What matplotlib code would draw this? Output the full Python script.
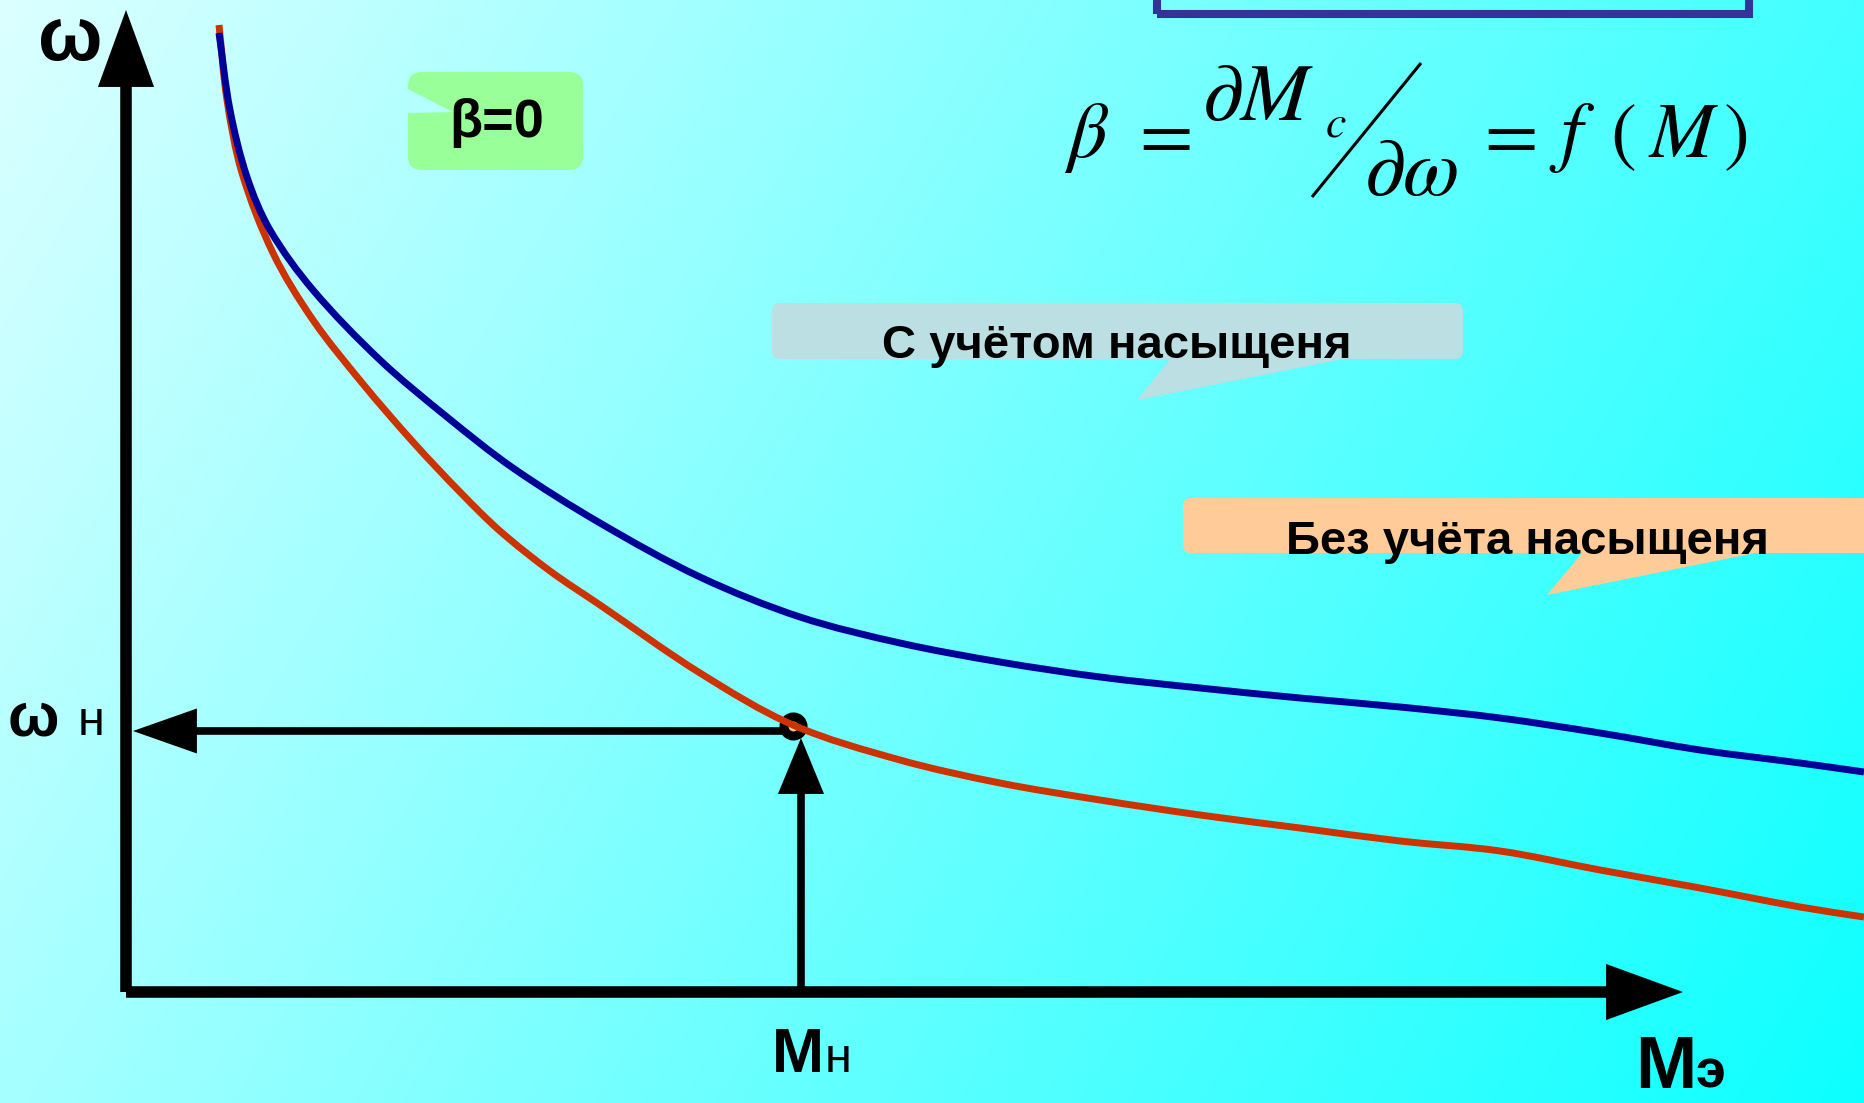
import numpy as np
import matplotlib
matplotlib.use("Agg")
import matplotlib.pyplot as plt
from matplotlib.patches import FancyBboxPatch, Polygon, Rectangle, FancyArrowPatch, ArrowStyle, PathPatch
from matplotlib.path import Path

# ---------------- data (origin at the axes corner; 1 unit = 100 px) ----------------
blue_M = [0.93, 1.04, 1.21, 1.44, 1.87, 2.54, 3.21, 3.87, 4.74, 5.74, 6.74, 7.74,
          8.74, 9.74, 10.74, 11.74, 12.74, 13.74, 14.74, 15.74, 16.74, 17.38]
blue_w = [9.59, 8.82, 8.15, 7.62, 7.02, 6.32, 5.75, 5.24, 4.69, 4.15, 3.75, 3.49,
          3.30, 3.15, 3.04, 2.94, 2.85, 2.74, 2.59, 2.42, 2.29, 2.20]

red_M = [0.93, 1.01, 1.16, 1.47, 1.87, 2.37, 2.87, 3.34, 3.74, 4.24, 4.74, 5.74, 6.67,
         7.74, 8.74, 9.74, 10.74, 11.74, 12.74, 13.74, 14.74, 15.74, 16.74, 17.38]
red_w = [9.67, 8.92, 8.19, 7.39, 6.72, 6.08, 5.50, 5.00, 4.61, 4.21, 3.87, 3.19, 2.67,
         2.32, 2.09, 1.92, 1.77, 1.64, 1.51, 1.41, 1.22, 1.04, 0.85, 0.75]

M_axis_end = 15.57
w_axis_end = 9.82
M_nom = 6.75          # vertical arrow position
w_nom = 2.61          # horizontal arrow position
point_M, point_w = 6.67, 2.66
w_arrow_tip = 0.07
M_arrow_tip = 2.54

label_w_top = "ω"
label_w_nom = ("ω", "н")
label_M_nom = ("М", "н")
label_M_e = ("М", "э")
label_beta0 = "β=0"
callout_sat = "С учётом насыщеня"
callout_nosat = "Без учёта насыщеня"

# ---------------- figure ----------------
W, H = 1864, 1103
fig = plt.figure(figsize=(W / 100, H / 100), dpi=100)
ax = fig.add_axes([0, 0, 1, 1])
x0, x1 = -1.26, 17.38
y0, y1 = -1.11, 9.92
ax.set_xlim(x0, x1)
ax.set_ylim(y0, y1)
ax.axis("off")

# background gradient (light cyan top-left -> saturated cyan bottom-right)
def bg_red(px, py):
    t = (px * W + py * H) / (W * W + H * H)
    return (220 * (1 - t) + 12 * t) / 255

yy, xx = np.mgrid[0:H:2, 0:W:2]
R = bg_red(xx, yy)
img = np.dstack([R, np.ones_like(R), np.ones_like(R)])
ax.imshow(img, extent=(x0, x1, y0, y1), origin="upper", aspect="auto",
          interpolation="bilinear", zorder=0)

def bgc(dx, dy):
    px = (dx - x0) * 100
    py = (y1 - dy) * 100
    return (bg_red(px, py), 1.0, 1.0)

SANS = ["Liberation Sans", "DejaVu Sans"]
plt.rcParams["mathtext.fontset"] = "stix"

# ---------------- callout boxes ----------------
ax.add_patch(FancyBboxPatch((2.82, 8.22), 1.75, 0.98,
                            boxstyle="round,pad=0,rounding_size=0.14",
                            fc="#99FF99", ec="none", zorder=2))
ax.add_patch(Polygon([(2.80, 9.04), (3.27, 8.80), (2.80, 8.79)],
                     closed=True, fc=bgc(3.0, 8.9), ec="none", zorder=2.1))
ax.text(3.705, 8.55, label_beta0, family=SANS, weight="bold", fontsize=39,
        ha="center", va="baseline", zorder=3)

ax.add_patch(FancyBboxPatch((6.46, 6.33), 6.91, 0.56,
                            boxstyle="round,pad=0,rounding_size=0.08",
                            fc="#BBDFE3", ec="none", zorder=2))
ax.add_patch(Polygon([(10.45, 6.34), (12.22, 6.34), (10.11, 5.92)],
                     closed=True, fc="#BBDFE3", ec="none", zorder=2))
ax.text(9.905, 6.34, callout_sat, family=SANS, weight="bold", fontsize=34,
        ha="center", va="baseline", zorder=3)

ax.add_patch(FancyBboxPatch((10.57, 4.39), 7.5, 0.55,
                            boxstyle="round,pad=0,rounding_size=0.08",
                            fc="#FFCC99", ec="none", zorder=2))
ax.add_patch(Polygon([(14.57, 4.40), (16.34, 4.40), (14.21, 3.97)],
                     closed=True, fc="#FFCC99", ec="none", zorder=2))
ax.text(14.01, 4.38, callout_nosat, family=SANS, weight="bold", fontsize=34,
        ha="center", va="baseline", zorder=3)

# formula frame (only bottom part visible)
ax.add_patch(Rectangle((10.31, 9.785), 5.92, 1.0, fill=False, ec="#333399",
                       lw=5.8, zorder=2))

# formula
fs = 56
def ftxt(x, y, s, size=fs):
    ax.text(x, y, s, fontsize=size, ha="left", va="baseline", zorder=3)

ftxt(9.38, 8.35, r"$\beta$")
ftxt(10.02, 8.35, r"$=$")
ftxt(10.76, 8.72, r"$\partial M$", 59)
ftxt(11.99, 8.55, r"$c$", 33)
ax.plot([12.95, 11.86], [9.29, 7.95], color="black", lw=2.2, zorder=3,
        solid_capstyle="butt")
ftxt(12.38, 7.97, r"$\partial\omega$", 59)
ftxt(13.47, 8.35, r"$=$")
ftxt(14.23, 8.35, r"$f$")
ftxt(14.84, 8.35, r"$($")
ftxt(15.22, 8.35, r"$M$")
ftxt(15.97, 8.35, r"$)$")

# ---------------- axes with arrows ----------------
def head(start, tip, hl, hw):
    ax.add_patch(FancyArrowPatch(posA=start, posB=tip,
                                 arrowstyle=ArrowStyle("-|>", head_length=hl, head_width=hw),
                                 mutation_scale=1, lw=0, color="black",
                                 shrinkA=0, shrinkB=0, zorder=4))

axis_lw = 8.3
ax.plot([0, 0], [0, w_axis_end - 0.7], color="black", lw=axis_lw,
        solid_capstyle="butt", zorder=4)
head((0, 0), (0, w_axis_end), 55.4, 20.2)
ax.plot([0, M_axis_end - 0.7], [0, 0], color="black", lw=axis_lw,
        solid_capstyle="butt", zorder=4)
head((0, 0), (M_axis_end, 0), 55.4, 20.2)

arr_lw = 5.5
ax.plot([point_M + 0.02, w_arrow_tip + 0.55], [w_nom, w_nom], color="black",
        lw=arr_lw, solid_capstyle="butt", zorder=4)
head((point_M, w_nom), (w_arrow_tip, w_nom), 46, 16.2)
ax.plot([M_nom, M_nom], [0, M_arrow_tip - 0.5], color="black",
        lw=arr_lw, solid_capstyle="butt", zorder=4)
head((M_nom, 0), (M_nom, M_arrow_tip), 40.3, 16.6)

# ---------------- curves (smooth Bezier through the read points) ----------------
def smooth_path(xs, ys):
    P = np.column_stack([xs, ys]).astype(float)
    n = len(P)
    d = np.hypot(*np.diff(P, axis=0).T)
    T = np.zeros_like(P)
    T[0] = (P[1] - P[0]) / d[0]
    T[-1] = (P[-1] - P[-2]) / d[-1]
    for i in range(1, n - 1):
        T[i] = (P[i + 1] - P[i - 1]) / (d[i - 1] + d[i])
    verts = [P[0]]
    codes = [Path.MOVETO]
    for i in range(n - 1):
        verts += [P[i] + T[i] * d[i] / 3, P[i + 1] - T[i + 1] * d[i] / 3, P[i + 1]]
        codes += [Path.CURVE4] * 3
    return Path(verts, codes)

ax.plot(point_M, point_w, "o", ms=13.7, mfc="#FFCC99", mec="black", mew=6.5, zorder=5)
ax.add_patch(PathPatch(smooth_path(red_M, red_w), fill=False, ec="#CC3300",
                       lw=5.0, zorder=6, capstyle="butt"))
ax.add_patch(PathPatch(smooth_path(blue_M, blue_w), fill=False, ec="#000099",
                       lw=5.0, zorder=6.5, capstyle="butt"))

# ---------------- labels ----------------
ax.text(-0.56, 9.32, label_w_top, family=SANS, weight="bold", fontsize=55,
        ha="center", va="baseline", zorder=3)
ax.text(-0.93, 2.57, label_w_nom[0], family=SANS, weight="bold", fontsize=44,
        ha="center", va="baseline", zorder=3)
ax.text(-0.345, 2.57, label_w_nom[1], family=SANS, fontsize=35,
        ha="center", va="baseline", zorder=3)
ax.text(6.72, -0.80, label_M_nom[0], family=SANS, weight="bold", fontsize=45,
        ha="center", va="baseline", zorder=3)
ax.text(7.125, -0.80, label_M_nom[1], family=SANS, fontsize=35,
        ha="center", va="baseline", zorder=3)
ax.text(15.40, -0.96, label_M_e[0], family=SANS, weight="bold", fontsize=53,
        ha="center", va="baseline", zorder=3)
ax.text(15.845, -0.96, label_M_e[1], family=SANS, weight="bold", fontsize=39,
        ha="center", va="baseline", zorder=3)

fig.savefig("out.png", dpi=100)
